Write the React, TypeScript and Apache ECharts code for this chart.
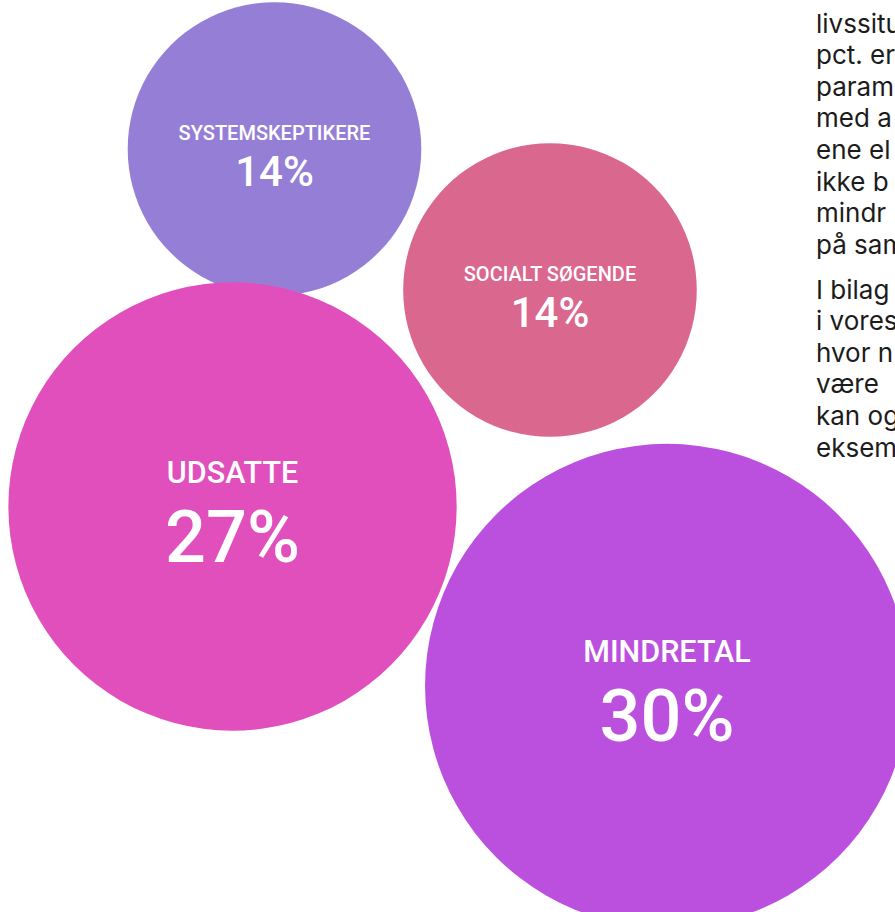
import React, { useEffect, useRef } from "react";
import * as echarts from "echarts";

// Segments and their shares (%)
const categories = ["SYSTEMSKEPTIKERE", "SOCIALT SØGENDE", "UDSATTE", "MINDRETAL"];
const shares = [14, 14, 27, 30];
// Layout coordinates of the packed bubbles (0–100 layout units)
const layoutX = [30.67, 61.45, 25.98, 74.53];
const layoutY = [16.34, 31.8, 55.54, 75.2];
const palette = ["#957fd6", "#da678e", "#e04fbc", "#bb50df"];

// Body copy, cut off at the right edge in the source
const paragraph1 = ["livssitu", "pct. er", "param", "med a", "ene el", "ikke b", "mindr", "på sam"];
const paragraph2 = ["I bilag", "i vores", "hvor n", "være", "kan og", "eksem"];

export default function App() {
  const ref = useRef<HTMLDivElement>(null);

  useEffect(() => {
    document.body.style.margin = "0";
    if (!ref.current) return;
    const chart = echarts.init(ref.current, null, { renderer: "svg" });

    const data = categories.map((c, i) => ({
      name: c,
      value: [layoutX[i], layoutY[i], shares[i]],
      itemStyle: { color: palette[i] },
    }));

    const lineH = 31.6;
    const textEls: any[] = [];
    const addPara = (lines: string[], y0: number) =>
      lines.forEach((t, i) => {
        textEls.push({
          type: "text",
          x: 816,
          y: y0 + lineH * i,
          silent: true,
          style: { text: t, fill: "#1c1c1c", font: "26px Inter", align: "left", verticalAlign: "middle" },
        });
      });
    addPara(paragraph1, 23);
    addPara(paragraph2, 289);

    const labelFont = "Roboto, sans-serif";

    chart.setOption({
      animation: false,
      backgroundColor: "#ffffff",
      grid: { left: 0, right: 0, top: 0, bottom: 0 },
      xAxis: { type: "value", min: 0, max: 100, show: false },
      yAxis: { type: "value", min: 0, max: 100, inverse: true, show: false },
      graphic: textEls,
      series: [
        {
          type: "scatter",
          data,
          symbol: "circle",
          symbolSize: (val: number[]) => 127 + 11.9 * val[2],
          itemStyle: { opacity: 1 },
          label: {
            show: true,
            position: "inside",
            formatter: (p: any) => {
              const tier = p.value[2] >= 20 ? "L" : "S";
              return `{n${tier}|${p.name}}\n{p${tier}|${p.value[2]}%}`;
            },
            rich: {
              nS: { fontSize: 20, lineHeight: 44, color: "#fff", fontFamily: labelFont, fontWeight: 500 },
              pS: { fontSize: 42, lineHeight: 32, color: "#fff", fontFamily: labelFont, fontWeight: 500 },
              nL: { fontSize: 30.5, lineHeight: 62, color: "#fff", fontFamily: labelFont, fontWeight: 500 },
              pL: { fontSize: 72, lineHeight: 68, color: "#fff", fontFamily: labelFont, fontWeight: 500 },
            },
          },
          emphasis: { disabled: true },
          z: 2,
        },
      ],
    });

    return () => chart.dispose();
  }, []);

  return (
    <div
      ref={ref}
      style={{ position: "absolute", left: 0, top: 0, width: 895, height: 912 }}
    />
  );
}
